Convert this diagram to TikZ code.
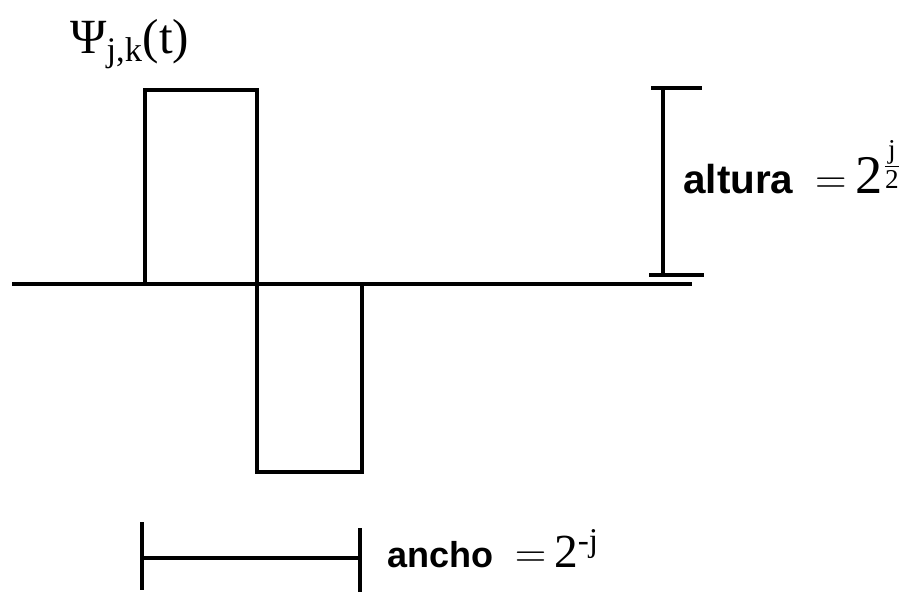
\documentclass[tikz,border=0pt]{standalone}
\usepackage{amsmath}
\usepackage{fontspec}
\setmainfont{Liberation Serif}
\newfontfamily\labelfont{Liberation Sans}
\usepackage{tikz}
\usetikzlibrary{positioning, calc}

\begin{document}
\begin{tikzpicture}[x=0.02cm, y=-0.02cm,
  wave/.style={line width=2pt},
  bar/.style={line width=2pt},
  wordlbl/.style={inner sep=0pt, font=\fontsize{31}{36}\selectfont}]
\useasboundingbox (0,0) rectangle (913,595);
% axis and wavelet
\coordinate (ax0) at (12,284);
\coordinate (ax1) at (692,284);
\draw[wave] (ax0) -- (ax1);
\draw[wave] (145,284) -- (145,90) -- (257,90) -- (257,472) -- (362,472) -- (362,284);
\node[wordlbl, anchor=base west, font=\fontsize{28}{32}\selectfont] (psi) at (70,53) {Ψ\textsubscript{j,k}(t)};
% height bar
\coordinate (htop) at (663,88);
\coordinate (hbot) at (663,275);
\draw[bar] (651,88) -- (702,88);
\draw[bar] (649,275) -- (704,275);
\draw[bar] (htop) -- (hbot);
\node[wordlbl, anchor=base west] (alt) at (683,193)
  {{\labelfont\bfseries\fontsize{23}{26}\selectfont altura}\hspace{0.4em}$=$\,2$^{\frac{\text{j}}{\text{2}}}$};
% width bar
\coordinate (wl) at (142,558);
\coordinate (wr) at (360,558);
\draw[bar] (142,522) -- (142,590);
\draw[bar] (360,528) -- (360,592);
\draw[bar] (wl) -- (wr);
\node[wordlbl, anchor=base west, font=\fontsize{27}{30}\selectfont] (anc) at (387,567)
  {{\labelfont\bfseries\fontsize{20.5}{24}\selectfont ancho}\hspace{0.45em}$=$\,2\textsuperscript{-j}};
\end{tikzpicture}
\end{document}
